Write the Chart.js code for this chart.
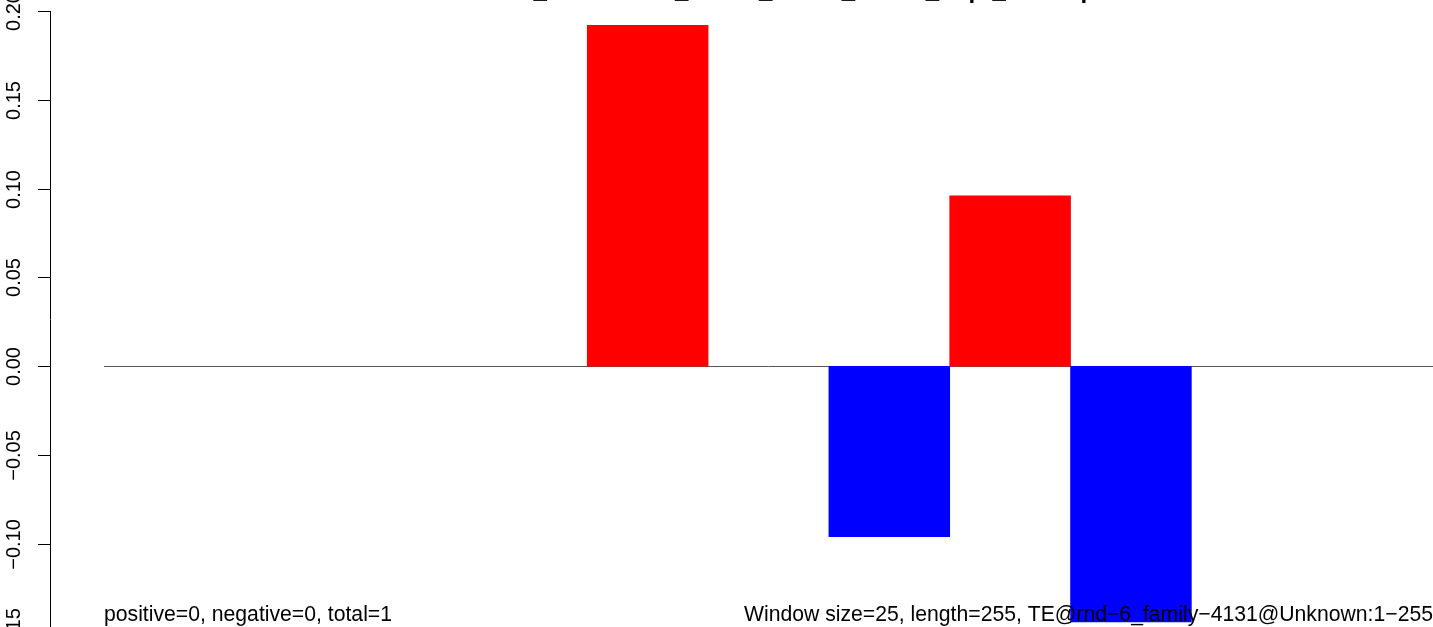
<!DOCTYPE html>
<html>
<head>
<meta charset="utf-8">
<script src="https://cdn.jsdelivr.net/npm/chart.js@4"></script>
<style>
  html, body { margin: 0; padding: 0; background: #fff; }
  #wrap { width: 1433px; height: 627px; position: relative; }
</style>
</head>
<body>
<div id="wrap"><canvas id="chart"></canvas></div>
<script>
// Window positions and bar heights
const positions = ['1', '2', '3', '4', '5', '6', '7', '8', '9', '10', '11'];
const values = [0, 0, 0, 0, 0.192, 0, -0.096, 0.096, -0.144, 0, 0];

const yTicks = [-0.15, -0.10, -0.05, 0, 0.05, 0.10, 0.15, 0.20];
const yTickLabels = ['\u22120.15', '\u22120.10', '\u22120.05', '0.00', '0.05', '0.10', '0.15', '0.20'];

const titleText = 'Window_Orientation_Sense_Count_Bases_Expr_Overlap';
const leftNote = 'positive=0, negative=0, total=1';
const rightNote = 'Window size=25, length=255, TE@rnd\u22126_family\u22124131@Unknown:1\u2212255';

const FONT = '"Liberation Sans", Arial, Helvetica, sans-serif';

// R-style axis, zero line and texts drawn from the chart's own scales
const rDecor = {
    id: 'rDecor',
    beforeDatasetsDraw(chart) {
        const { ctx, scales: { x, y } } = chart;
        const y0 = Math.round(y.getPixelForValue(0)) + 0.5;
        ctx.save();
        ctx.strokeStyle = '#555555';
        ctx.lineWidth = 1;
        ctx.beginPath();
        ctx.moveTo(x.left, y0);
        ctx.lineTo(x.right, y0);
        ctx.stroke();
        ctx.restore();
    },
    afterDatasetsDraw(chart) {
        const { ctx, scales: { x, y } } = chart;
        ctx.save();

        // y axis
        const axisX = 50.5;
        ctx.strokeStyle = '#000';
        ctx.lineWidth = 1;
        ctx.beginPath();
        ctx.moveTo(axisX, y.getPixelForValue(yTicks[yTicks.length - 1]));
        ctx.lineTo(axisX, y.getPixelForValue(yTicks[0]));
        ctx.stroke();

        ctx.fillStyle = '#000';
        ctx.font = '20px ' + FONT;
        ctx.textAlign = 'center';
        ctx.textBaseline = 'alphabetic';
        yTicks.forEach((v, i) => {
            const py = Math.round(y.getPixelForValue(v)) + 0.5;
            ctx.beginPath();
            ctx.moveTo(38, py);
            ctx.lineTo(axisX, py);
            ctx.stroke();
            ctx.save();
            ctx.translate(20, py);
            ctx.rotate(-Math.PI / 2);
            ctx.fillText(yTickLabels[i], 0, 0);
            ctx.restore();
        });

        // title, mostly above the top edge
        ctx.font = 'bold 24px ' + FONT;
        ctx.textAlign = 'center';
        ctx.fillText(titleText, (x.left + x.right) / 2, -2);

        // notes at the bottom
        ctx.font = '21.2px ' + FONT;
        ctx.textAlign = 'left';
        ctx.fillText(leftNote, x.left, 621);
        ctx.textAlign = 'right';
        ctx.fillText(rightNote, x.right, 621);

        ctx.restore();
    }
};

new Chart(document.getElementById('chart'), {
    type: 'bar',
    data: {
        labels: positions,
        datasets: [{
            data: values,
            backgroundColor: values.map(v => v > 0 ? '#ff0000' : (v < 0 ? '#0000ff' : 'rgba(0,0,0,0)')),
            borderWidth: 0,
            barPercentage: 1,
            categoryPercentage: 1
        }]
    },
    options: {
        responsive: true,
        maintainAspectRatio: false,
        animation: false,
        layout: { padding: { left: 104, right: 0, top: 0, bottom: 0 } },
        plugins: {
            legend: { display: false },
            tooltip: { enabled: false }
        },
        scales: {
            x: { display: false, grid: { display: false } },
            y: {
                display: false,
                min: -0.1468,
                max: 0.2062,
                grid: { display: false }
            }
        }
    },
    plugins: [rDecor]
});
</script>
</body>
</html>
